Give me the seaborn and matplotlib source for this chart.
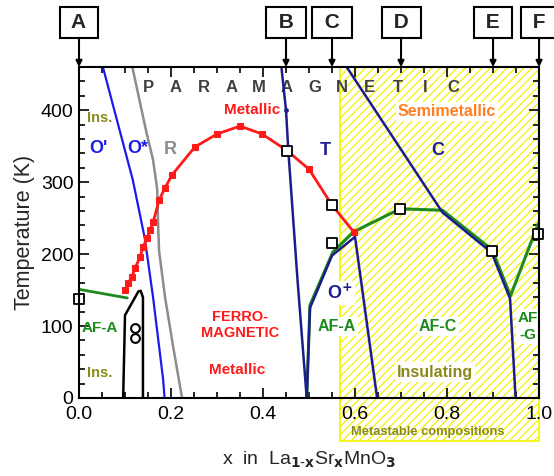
import matplotlib
matplotlib.use("Agg")
import matplotlib.pyplot as plt
import seaborn as sns
from matplotlib.patches import Rectangle
from matplotlib.ticker import MultipleLocator, FormatStrFormatter

# --- Data (x = Sr content, T in K) ---
tc_x = [0.100, 0.107, 0.115, 0.122, 0.133, 0.139, 0.148, 0.154, 0.161, 0.174,
        0.187, 0.202, 0.252, 0.300, 0.350, 0.398, 0.452, 0.500, 0.550, 0.597]
tc_t = [150, 160, 168, 181, 196, 210, 222, 233, 244, 275,
        292, 310, 349, 367, 378, 367, 344, 318, 268, 231]

afa_left_x = [0.0, 0.105]
afa_left_t = [151, 139]

neel_x = [0.495, 0.502, 0.552, 0.597, 0.698, 0.790, 0.898, 0.938, 0.998]
neel_t = [0, 129, 203, 231, 263, 261, 206, 142, 242]

o_prime_x = [0.052, 0.117, 0.143, 0.161, 0.183, 0.186]
o_prime_t = [460, 303, 222, 140, 25, 0]

rhombo_x = [0.116, 0.147, 0.161, 0.170, 0.172, 0.174, 0.187, 0.205, 0.224]
rhombo_t = [460, 368, 331, 290, 240, 205, 140, 70, 0]

tetra_x = [0.440, 0.450, 0.455, 0.475, 0.495]
tetra_t = [460, 400, 344, 164, 0]

oplus_x = [0.495, 0.502, 0.550, 0.600, 0.648]
oplus_t = [0, 125, 198, 224, 0]

cubic_x = [0.582, 0.790, 0.897, 0.937, 0.949]
cubic_t = [460, 258, 202, 138, 0]

outline_x = [0.096, 0.100, 0.129, 0.134, 0.139, 0.139]
outline_t = [0, 115, 148, 149, 140, 0]

circle_x = [0.122, 0.122]
circle_t = [97, 83]

square_x = [0.0, 0.452, 0.550, 0.550, 0.698, 0.898, 0.998]
square_t = [138, 344, 268, 215, 263, 204, 228]

sample_names = ["A", "B", "C", "D", "E", "F"]
sample_x = [0.0, 0.45, 0.55, 0.70, 0.90, 1.0]

metastable_from = 0.567

RED = "#ff1a1a"
BLUE = "#1a1aee"
NAVY = "#1c1c8c"
GREEN = "#1c8a1c"
GRAY = "#8c8c8c"
OLIVE = "#8a8a1a"

sns.set_theme(style="ticks")
plt.rcParams["font.family"] = ["Liberation Sans", "DejaVu Sans"]
plt.rcParams["hatch.linewidth"] = 0.9

fig = plt.figure(figsize=(5.54, 4.76), dpi=100)
ax = fig.add_axes([0.1426, 0.164, 0.8304, 0.695])

# metastable hatched region (runs below the axis)
ax.add_patch(Rectangle((metastable_from, -60), 1.0 - metastable_from, 520,
                       facecolor="white", edgecolor="#f2f200", hatch="////",
                       lw=1.2, zorder=0.5, clip_on=False))

def line(xs, ts, color, lw, **kw):
    sns.lineplot(x=xs, y=ts, sort=False, estimator=None, color=color,
                 lw=lw, ax=ax, **kw)

line(o_prime_x, o_prime_t, BLUE, 1.6)
line(rhombo_x, rhombo_t, GRAY, 1.8)
line(outline_x, outline_t, "black", 1.8)
line(afa_left_x, afa_left_t, GREEN, 2.0)
line(neel_x, neel_t, GREEN, 2.2)
line(tetra_x, tetra_t, NAVY, 1.8)
line(oplus_x, oplus_t, NAVY, 1.8)
line(cubic_x, cubic_t, NAVY, 1.8)
line(tc_x, tc_t, RED, 2.0, marker="s", markersize=4,
     markeredgecolor=RED, markerfacecolor=RED)

sns.scatterplot(x=[0.450], y=[400], color=NAVY, s=10, ax=ax, zorder=4,
                edgecolor=NAVY)
sns.scatterplot(x=circle_x, y=circle_t, marker="o", s=40, facecolor="white",
                edgecolor="black", linewidth=1.5, ax=ax, zorder=4)
sns.scatterplot(x=square_x, y=square_t, marker="s", s=60, facecolor="white",
                edgecolor="black", linewidth=1.3, ax=ax, zorder=5, clip_on=False)

# --- axes styling ---
ax.set_xlim(0, 1.0)
ax.set_ylim(0, 460)
ax.xaxis.set_major_locator(MultipleLocator(0.2))
ax.xaxis.set_minor_locator(MultipleLocator(0.05))
ax.yaxis.set_major_locator(MultipleLocator(100))
ax.yaxis.set_minor_locator(MultipleLocator(20))
ax.xaxis.set_major_formatter(FormatStrFormatter("%.1f"))
ax.tick_params(which="both", direction="in", top=True, right=True,
               labelsize=14, colors="black", width=1.2)
ax.tick_params(axis="x", pad=6)
ax.tick_params(axis="y", pad=4)
ax.tick_params(which="major", length=7)
ax.tick_params(which="minor", length=4)
for sp in ax.spines.values():
    sp.set_linewidth(1.5)
    sp.set_color("black")
    sp.set_zorder(6)

ax.set_ylabel("Temperature (K)", fontsize=15.5, labelpad=4)
ax.set_xlabel(r"x  in  La$_{\mathbf{1\text{-}x}}$Sr$_{\mathbf{x}}$MnO$_{\mathbf{3}}$",
              fontsize=14, labelpad=19)

# --- region labels ---
def label(x, t, s, color, size, bg=False, **kw):
    box = dict(facecolor="white", edgecolor="none", pad=1.5) if bg else None
    ax.text(x, t, s, color=color, fontsize=size, fontweight="bold",
            ha="center", va="center", bbox=box, zorder=1.5, **kw)

for i, ch in enumerate("PARAMAGNETIC"):
    label(0.150 + i * 0.0603, 432, ch, "#404040", 12)

label(0.046, 389, "Ins.", OLIVE, 10.5)
label(0.042, 347, "O'", BLUE, 13)
label(0.127, 347, "O*", BLUE, 13)
label(0.198, 345, "R", GRAY, 13)
label(0.376, 400, "Metallic", RED, 11)
label(0.535, 344, "T", NAVY, 13)
label(0.780, 344, "C", NAVY, 13)
label(0.800, 398, "Semimetallic", "#ff8020", 11.5, bg=True)
label(0.350, 101, "FERRO-\nMAGNETIC", RED, 10.5, linespacing=1.2)
label(0.343, 39, "Metallic", RED, 11)
label(0.046, 97, "AF-A", GREEN, 11)
label(0.046, 35, "Ins.", OLIVE, 10.5)
label(0.567, 146, r"O$^{\mathbf{+}}$", NAVY, 13, bg=True)
label(0.560, 99, "AF-A", GREEN, 11.5, bg=True)
label(0.780, 99, "AF-C", GREEN, 11.5, bg=True)
label(0.976, 99, "AF\n-G", GREEN, 11, bg=True, linespacing=1.25)
label(0.774, 36, "Insulating", OLIVE, 11.5, bg=True)
ax.text(0.759, -47, "Metastable compositions", color=OLIVE, fontsize=9.3,
        fontweight="bold", ha="center", va="center", clip_on=False)

# --- sample markers above the frame ---
for name, xs in zip(sample_names, sample_x):
    ax.annotate("", xy=(xs, 1.0), xycoords=("data", "axes fraction"),
                xytext=(0, 21), textcoords="offset points",
                arrowprops=dict(arrowstyle="-|>", color="black", lw=1.5,
                                mutation_scale=9, shrinkA=0, shrinkB=0),
                annotation_clip=False)
    ax.annotate(" " + name + " ", xy=(xs, 1.0), xycoords=("data", "axes fraction"),
                xytext=(0, 32), textcoords="offset points",
                ha="center", va="center", fontsize=15, fontweight="bold",
                bbox=dict(boxstyle="square,pad=0.3", facecolor="white",
                          edgecolor="black", lw=1.5),
                annotation_clip=False)

fig.savefig("out.png", dpi=100)
plt.close(fig)
